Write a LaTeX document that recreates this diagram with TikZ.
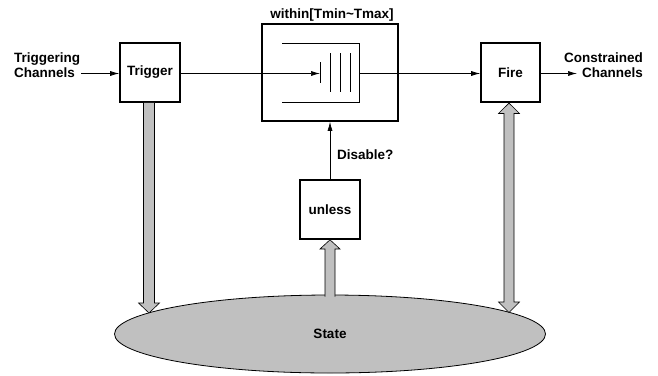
\documentclass[tikz,border=0pt]{standalone}
\usepackage{fontspec}
\setmainfont{Liberation Sans}
\usetikzlibrary{arrows.meta,shapes.geometric,calc}
\definecolor{shaft}{RGB}{192,192,192}
\begin{document}
\begin{tikzpicture}[x=1pt,y=-1pt,
  font=\fontsize{13.5}{14.5}\selectfont\bfseries,
  box/.style={draw,line width=1.6pt,minimum width=60pt,minimum height=59pt,inner sep=0pt,fill=white},
  fat/.style={fill=shaft,draw=black,line width=0.6pt,line join=miter},
  arr/.style={-{Latex[length=9pt,width=5pt]},line width=0.7pt},
  thinln/.style={line width=0.7pt},
  lbl/.style={inner sep=0pt}]
\useasboundingbox (0,0) rectangle (658,375);

% state ellipse
\node[ellipse,draw,fill=shaft,line width=0.8pt,minimum width=431pt,minimum height=78pt,inner sep=0pt] (state) at (330,334) {State};

% boxes
\node[box] (trig) at (150,72.5) {Trigger};
\node[box,minimum width=59pt] (fire) at (510.5,72.5) {Fire};
\node[box,minimum width=136pt,minimum height=97pt] (within) at (330,72.5) {};
\node[box] (unless) at (330,209.5) {unless};

% labels
\node[lbl,anchor=base] (wlbl) at (332,18) {within[Tmin\textasciitilde Tmax]};
\node[lbl,align=left,anchor=north west] (tin) at (14,53) {Triggering\\Channels};
\node[lbl,align=right,anchor=north east] (cout) at (643,53) {Constrained\\Channels};
\node[lbl,anchor=base west] (dis) at (337,159) {Disable?};

% coordinates
\coordinate (tinend) at (81,73.5);
\coordinate (qbar) at (320,73.5);
\coordinate (qout) at (359,73.5);
\coordinate (foutend) at (577,73.5);

% queue inside within
\draw[thinln] (282,43) -- (359,43) -- (359,102) -- (282,102);
\draw[thinln] (320,62) -- (320,83);
\foreach \x in {330,340,350} \draw[thinln] (\x,53) -- (\x,92);

% connectors
\draw[arr] (tinend) -- (tinend -| trig.west);
\draw[arr] (trig.east |- qbar) -- (qbar);
\draw[arr] (qout) -- (qout -| fire.west);
\draw[arr] (fire.east |- foutend) -- (foutend);
\draw[arr] (unless.north) -- (within.south);

% fat arrows
\filldraw[fat] ($(trig.south)+(-6.5,0)$) -- (143.5,303) -- (138.5,303) -- (149,313) -- (159.5,303) -- (154.5,303) -- ($(trig.south)+(4.5,0)$);
\filldraw[fat] ($(fire.south)+(-1.5,0.3)$) -- (519.5,113.5) -- (514,113.5) -- (514,302) -- (519.5,302) -- (509,312.5) -- (498.5,302) -- (504,302) -- (504,113.5) -- (498.5,113.5) -- cycle;
\filldraw[fat] (325,296.5) -- (325,249) -- (320,249) -- (unless.south) -- (340,249) -- (335,249) -- (335,296.5);
\end{tikzpicture}
\end{document}
